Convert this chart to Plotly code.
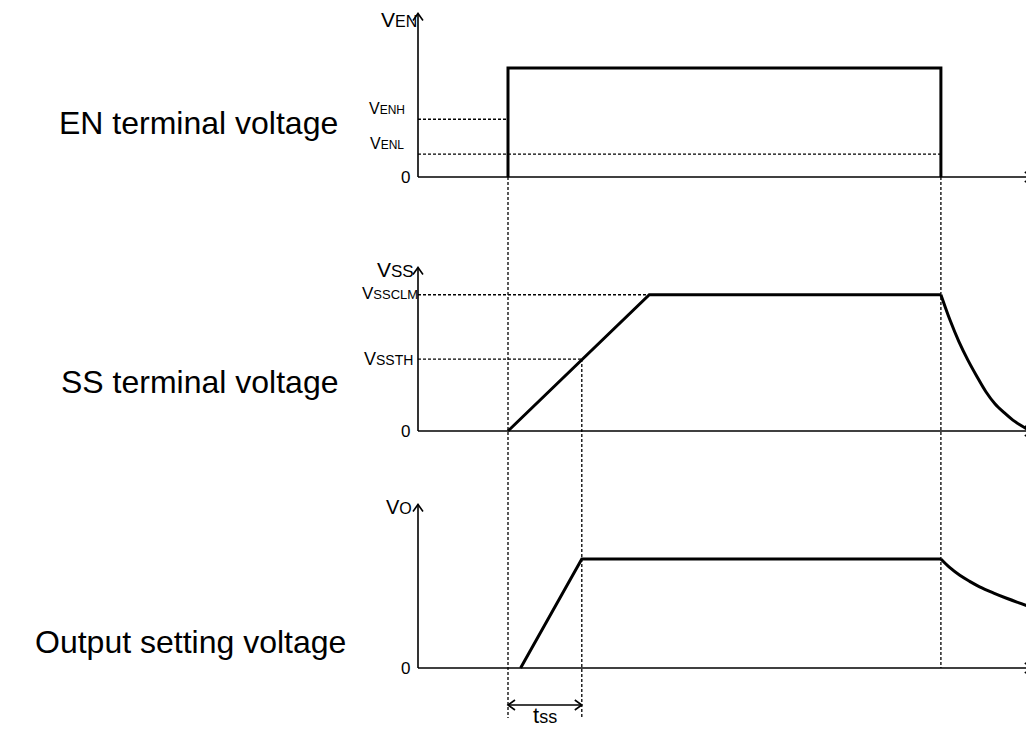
import plotly.graph_objects as go

# ---------------- data ----------------
# time events (arbitrary time units, origin at the vertical axes)
t_en_on = 1.0
t_vo_start = 1.14
t_ss_th = 1.82
t_ss_clm = 2.57
t_en_off = 5.81
t_end = 6.82

# EN terminal voltage levels
en_high = 1.0
v_enh = 0.53
v_enl = 0.21

# SS terminal voltage levels and discharge curve
v_ssclm = 1.25
v_ssth = 0.66
ss_decay_t = [5.81, 5.91, 6.01, 6.11, 6.21, 6.31, 6.41, 6.51, 6.61, 6.71, 6.80]
ss_decay_v = [1.25, 1.02, 0.82, 0.65, 0.50, 0.36, 0.25, 0.17, 0.10, 0.045, 0.0]

# Output setting voltage level and decay curve
v_o = 1.0
vo_decay_t = [5.81, 5.91, 6.02, 6.13, 6.24, 6.39, 6.54, 6.67, 6.79]
vo_decay_v = [1.0, 0.92, 0.85, 0.795, 0.745, 0.69, 0.64, 0.60, 0.565]

axis_top = 1.5

# ---------------- layout constants (pixels) ----------------
OFF = 8                      # page body margin
W, H = 1034 - OFF, 731 - OFF
X0 = 418 - OFF               # pixel x of the time origin
PX_T = 90                    # pixels per time unit
PX_V = 109                   # pixels per voltage unit
B = {"y": 177 - OFF, "y2": 431 - OFF, "y3": 668 - OFF}   # baseline pixel of each panel

FONT = "Arial, Liberation Sans, sans-serif"
BLACK = "#000000"

def yrange(ax):
    b = B[ax]
    return [-(H - b) / PX_V, b / PX_V]

def to_y3(ax, v):
    """express a value of panel `ax` on the y3 axis (same scale, offset)"""
    return v + (B["y3"] - B[ax]) / PX_V

fig = go.Figure()

def line(xs, ys, ax="y", width=1.6, dash=None, shape="linear"):
    fig.add_trace(go.Scatter(
        x=xs, y=ys, mode="lines", yaxis=ax, xaxis="x",
        line=dict(color=BLACK, width=width, dash=dash, shape=shape),
        hoverinfo="skip", showlegend=False))

DOT = "3px,2px"
ah_t = 5 / PX_T     # arrowhead half sizes
ah_v = 5 / PX_V
ah_dv = 7 / PX_V
ah_dt = 7 / PX_T

# axes for each panel
for ax in ("y", "y2", "y3"):
    line([0, 0], [0, axis_top], ax)
    line([-ah_t, 0, ah_t], [axis_top - ah_dv, axis_top, axis_top - ah_dv], ax)
    line([0, t_end], [0, 0], ax)
    line([t_end - ah_dt, t_end, t_end - ah_dt], [ah_v, 0, -ah_v], ax)

# dashed threshold lines
line([0, t_en_on], [v_enh, v_enh], "y", 1.3, DOT)
line([0, t_en_off], [v_enl, v_enl], "y", 1.3, DOT)
line([0, t_ss_clm], [v_ssclm, v_ssclm], "y2", 1.3, DOT)
line([0, t_ss_th], [v_ssth, v_ssth], "y2", 1.3, DOT)

# dashed vertical guides (on y3 scale)
guide_bottom = -50 / PX_V
line([t_en_on, t_en_on], [to_y3("y", 0), guide_bottom], "y3", 1.3, DOT)
line([t_ss_th, t_ss_th], [to_y3("y2", v_ssth), guide_bottom], "y3", 1.3, DOT)
line([t_en_off, t_en_off], [to_y3("y", 0), 0], "y3", 1.3, DOT)

# signals
line([t_en_on, t_en_on, t_en_off, t_en_off], [0, en_high, en_high, 0], "y", 3)
line([t_en_on, t_ss_clm, t_en_off], [0, v_ssclm, v_ssclm], "y2", 3)
line(ss_decay_t, ss_decay_v, "y2", 3, shape="spline")
line([t_vo_start, t_ss_th, t_en_off], [0, v_o, v_o], "y3", 3)
line(vo_decay_t, vo_decay_v, "y3", 3, shape="spline")

# tss dimension arrow
tss_y = -37 / PX_V
line([t_en_on, t_ss_th], [tss_y, tss_y], "y3", 1.6)
line([t_en_on + ah_dt, t_en_on, t_en_on + ah_dt], [tss_y + ah_v, tss_y, tss_y - ah_v], "y3", 1.6)
line([t_ss_th - ah_dt, t_ss_th, t_ss_th - ah_dt], [tss_y + ah_v, tss_y, tss_y - ah_v], "y3", 1.6)

# ---------------- text ----------------
def label(text, y, ax, size, xshift=0, yshift=0, x=0, xanchor="right"):
    fig.add_annotation(x=x, y=y, xref="x", yref=ax, text=text, showarrow=False,
                       xanchor=xanchor, yanchor="middle", xshift=xshift, yshift=yshift,
                       font=dict(family=FONT, size=size, color=BLACK))

def sub(big, small, bs, ss):
    return f"<span style='font-size:{bs}px'>{big}</span><span style='font-size:{ss}px'>{small}</span>"

label(sub("V", "EN", 21, 16), axis_top, "y", 21, xshift=1, yshift=-6)
label(sub("V", "ENH", 16, 12), v_enh, "y", 16, xshift=-11, yshift=11)
label(sub("V", "ENL", 16, 12), v_enl, "y", 16, xshift=-12, yshift=11)
label("0", 0, "y", 17, xshift=-6)

label(sub("V", "SS", 21, 17), axis_top, "y2", 21, xshift=-2, yshift=-2)
label(sub("V", "SSCLM", 17, 13), v_ssclm, "y2", 17, xshift=2, yshift=1)
label(sub("V", "SSTH", 18, 14), v_ssth, "y2", 18, xshift=-3)
label("0", 0, "y2", 17, xshift=-6)

label(sub("V", "O", 20, 16), axis_top, "y3", 20, xshift=-4, yshift=-2)
label("0", 0, "y3", 17, xshift=-6)

label(sub("t", "ss", 22, 18), -47 / PX_V, "y3", 22,
      x=(t_en_on + t_ss_th) / 2, xanchor="center")

label("EN terminal voltage", 0.495, "y", 32, xshift=-78)
label("SS terminal voltage", 0.45, "y2", 32, xshift=-78)
label("Output setting voltage", 0.24, "y3", 32, xshift=-70)

fig.update_layout(
    width=W, height=H, margin=dict(l=0, r=0, t=0, b=0),
    paper_bgcolor="white", plot_bgcolor="white", showlegend=False,
    xaxis=dict(range=[-X0 / PX_T, (W - X0) / PX_T], visible=False, fixedrange=True),
    yaxis=dict(range=yrange("y"), visible=False, fixedrange=True),
    yaxis2=dict(range=yrange("y2"), visible=False, overlaying="y", fixedrange=True),
    yaxis3=dict(range=yrange("y3"), visible=False, overlaying="y", fixedrange=True),
)

fig.write_html("out.html")
